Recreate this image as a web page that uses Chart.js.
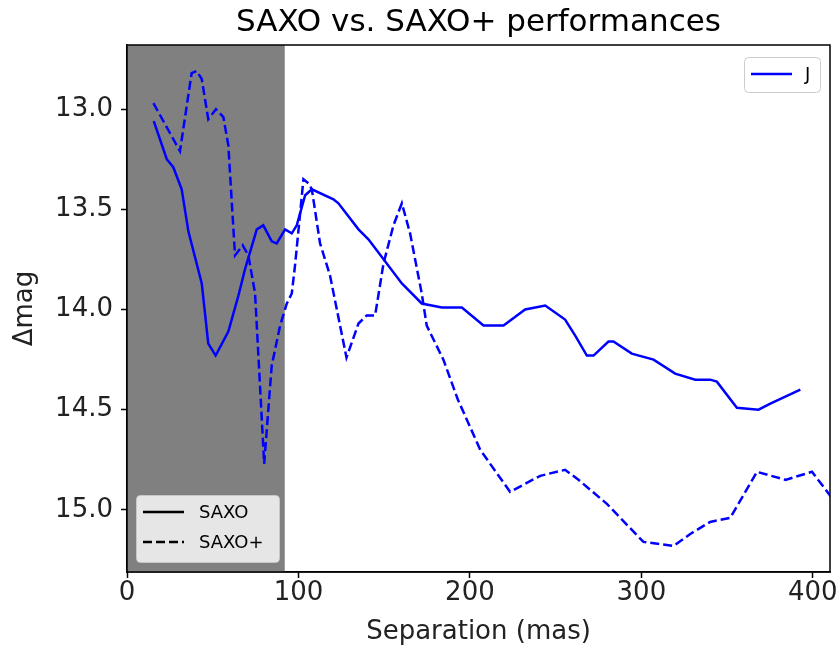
<!DOCTYPE html>
<html>
<head>
<meta charset="utf-8">
<script src="https://cdn.jsdelivr.net/npm/chart.js@4.4.1/dist/chart.umd.min.js"></script>
<style>
html,body{margin:0;padding:0;background:#fff;}
</style>
</head>
<body>
<canvas id="chart" width="840" height="648"></canvas>
<script>
// data
const saxoSep = [15.6, 23.2, 27, 31.9, 35.8, 43.6, 47.4, 51.7, 59.1, 65, 68.8, 75.7, 79.5, 84.4, 87.3, 92.2, 96.1, 99, 103.9, 107.8, 120.4, 123.3, 135, 140.8, 160.3, 171.9, 183.6, 195.3, 207.9, 219.6, 232.2, 243.9, 255.5, 261.4, 268.2, 272.1, 280.8, 283.7, 294.4, 307.1, 319.7, 331.4, 340.1, 344, 355.7, 368.3, 375.2, 392.7];
const saxoMag = [13.06, 13.25, 13.29, 13.40, 13.61, 13.87, 14.17, 14.23, 14.11, 13.93, 13.80, 13.60, 13.58, 13.66, 13.67, 13.60, 13.62, 13.58, 13.43, 13.40, 13.45, 13.47, 13.60, 13.65, 13.87, 13.97, 13.99, 13.99, 14.08, 14.08, 14.00, 13.98, 14.05, 14.13, 14.23, 14.23, 14.16, 14.16, 14.22, 14.25, 14.32, 14.35, 14.35, 14.36, 14.49, 14.50, 14.47, 14.40];

const saxoPlusSep = [15.4, 30.9, 37.7, 40.6, 43.6, 47.4, 51.9, 56.2, 59.1, 63, 67.5, 70.8, 74.7, 80, 84.4, 89.3, 93.2, 96.1, 98, 102.9, 105.8, 107.8, 112.6, 118.4, 128, 135, 139.8, 144.7, 149.6, 155.4, 160.3, 165.1, 171.9, 174.8, 184.5, 193, 206, 223.4, 241, 255.5, 263.3, 279.9, 301.2, 318.8, 328.5, 340.1, 351.8, 367.4, 384, 399.5, 412];
const saxoPlusMag = [12.97, 13.21, 12.82, 12.81, 12.85, 13.05, 13.0, 13.04, 13.18, 13.73, 13.68, 13.73, 13.92, 14.77, 14.28, 14.08, 13.97, 13.92, 13.78, 13.35, 13.37, 13.40, 13.67, 13.83, 14.24, 14.07, 14.03, 14.03, 13.77, 13.58, 13.47, 13.62, 13.92, 14.08, 14.25, 14.45, 14.70, 14.91, 14.83, 14.80, 14.85, 14.97, 15.16, 15.18, 15.12, 15.06, 15.04, 14.81, 14.85, 14.81, 14.95];

const seriesLabels = ['SAXO', 'SAXO+'];
const bandLabel = 'J';
const maskedSep = [0, 92]; // grey zone
const xTicks = [0, 100, 200, 300, 400];
const yTicks = [13.0, 13.5, 14.0, 14.5, 15.0];
const titleText = 'SAXO vs. SAXO+ performances';

const FONT = '"DejaVu Sans", sans-serif';
const BLUE = '#0000ff';

const toPoints = (xs, ys) => xs.map((x, i) => ({x: x, y: ys[i]}));

// grey band behind the lines
const bandPlugin = {
    id: 'band',
    beforeDatasetsDraw(chart){
        const {ctx, chartArea, scales} = chart;
        const x0 = scales.x.getPixelForValue(maskedSep[0]);
        const x1 = scales.x.getPixelForValue(maskedSep[1]);
        ctx.save();
        ctx.fillStyle = '#808080';
        ctx.fillRect(x0, chartArea.top, x1 - x0, chartArea.bottom - chartArea.top);
        ctx.restore();
    }
};

// frame, title and the two legends
const decorPlugin = {
    id: 'decor',
    afterDraw(chart){
        const {ctx, chartArea} = chart;
        ctx.save();
        ctx.strokeStyle = '#000';
        ctx.lineWidth = 1.5;
        ctx.strokeRect(chartArea.left, chartArea.top, chartArea.right - chartArea.left, chartArea.bottom - chartArea.top);

        ctx.fillStyle = '#000';
        ctx.font = '31px ' + FONT;
        ctx.textAlign = 'center';
        ctx.textBaseline = 'middle';
        ctx.fillText(titleText, (chartArea.left + chartArea.right) / 2, 23);

        // band legend (top right)
        ctx.beginPath();
        ctx.roundRect(744.5, 57.5, 76, 35, 4);
        ctx.fillStyle = 'rgba(255,255,255,0.8)';
        ctx.fill();
        ctx.strokeStyle = '#cccccc';
        ctx.lineWidth = 1;
        ctx.stroke();
        ctx.beginPath();
        ctx.moveTo(751, 74); ctx.lineTo(792, 74);
        ctx.strokeStyle = BLUE;
        ctx.lineWidth = 2.5;
        ctx.stroke();
        ctx.fillStyle = '#000';
        ctx.font = '18px ' + FONT;
        ctx.textAlign = 'left';
        ctx.fillText(bandLabel, 805, 75);

        // instrument legend (bottom left)
        ctx.beginPath();
        ctx.roundRect(136.5, 495.5, 143, 67, 4);
        ctx.fillStyle = 'rgba(255,255,255,0.8)';
        ctx.fill();
        ctx.strokeStyle = 'rgba(204,204,204,0.8)';
        ctx.lineWidth = 1;
        ctx.stroke();
        const rows = [512, 542];
        rows.forEach((y, i) => {
            ctx.beginPath();
            ctx.setLineDash(i === 0 ? [] : [9, 4]);
            ctx.moveTo(143, y); ctx.lineTo(184, y);
            ctx.strokeStyle = '#000';
            ctx.lineWidth = 2.5;
            ctx.stroke();
            ctx.setLineDash([]);
            ctx.fillStyle = '#000';
            ctx.fillText(seriesLabels[i], 199, y + 1);
        });
        ctx.restore();
    }
};

const ctx = document.getElementById('chart').getContext('2d');
new Chart(ctx, {
    type: 'scatter',
    data: {
        datasets: [
            {
                label: seriesLabels[0],
                data: toPoints(saxoSep, saxoMag),
                showLine: true,
                borderColor: BLUE,
                borderWidth: 2.5,
                pointRadius: 0,
                tension: 0
            },
            {
                label: seriesLabels[1],
                data: toPoints(saxoPlusSep, saxoPlusMag),
                showLine: true,
                borderColor: BLUE,
                borderWidth: 2.5,
                borderDash: [9, 4],
                pointRadius: 0,
                tension: 0
            }
        ]
    },
    options: {
        responsive: false,
        animation: false,
        layout: { padding: { top: 45, right: 10, left: 10, bottom: 0 } },
        plugins: {
            legend: { display: false },
            tooltip: { enabled: false },
            title: { display: false }
        },
        scales: {
            x: {
                type: 'linear',
                min: 0,
                max: 410,
                afterBuildTicks: s => { s.ticks = xTicks.map(v => ({value: v})); },
                afterFit: s => { s.height = 76; },
                grid: { drawOnChartArea: false, color: '#000', tickLength: 6, tickWidth: 1.5 },
                border: { color: '#000', width: 1.5 },
                ticks: { color: '#222', font: { family: FONT, size: 26 }, padding: 0, maxRotation: 0 },
                title: { display: true, text: 'Separation (mas)', color: '#222', font: { family: FONT, size: 26 }, padding: 0 }
            },
            y: {
                type: 'linear',
                reverse: true,
                min: 12.68,
                max: 15.31,
                afterBuildTicks: s => { s.ticks = yTicks.map(v => ({value: v})); },
                afterFit: s => { s.width = 117; },
                grid: { drawOnChartArea: false, color: '#000', tickLength: 6, tickWidth: 1.5 },
                border: { color: '#000', width: 1.5 },
                ticks: { color: '#222', font: { family: FONT, size: 26 }, padding: 8, callback: v => v.toFixed(1) },
                title: { display: true, text: 'Δmag', color: '#222', font: { family: FONT, size: 26 }, padding: 0 }
            }
        }
    },
    plugins: [bandPlugin, decorPlugin]
});
</script>
</body>
</html>
